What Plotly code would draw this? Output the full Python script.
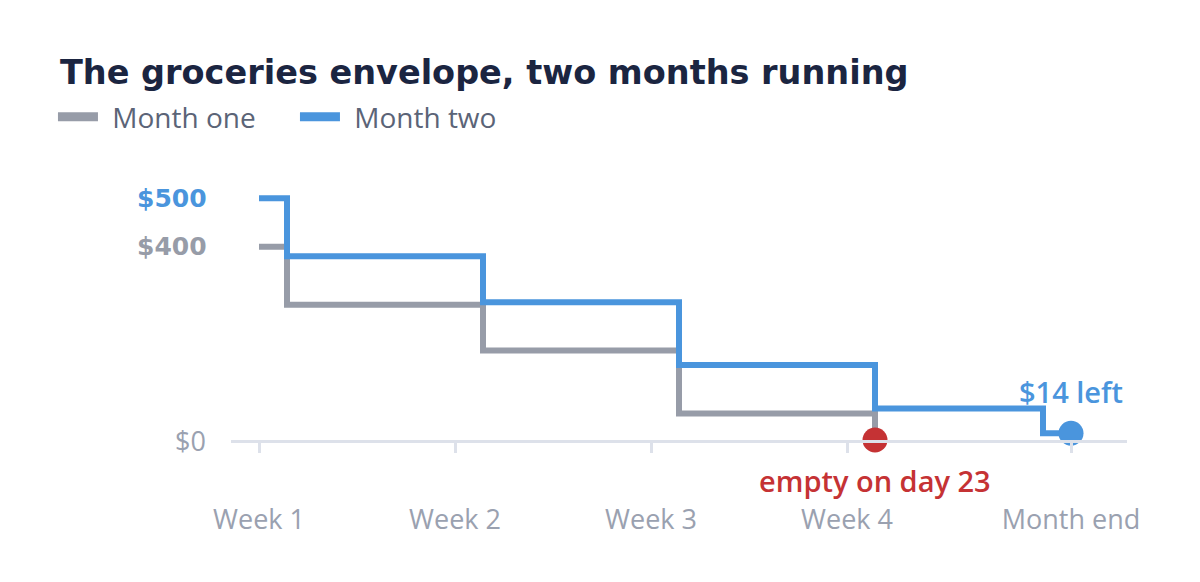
import plotly.graph_objects as go

# 数据：按天记录信封余额
month_one_days = [1, 2, 9, 16, 23]
month_one_left = [400, 280, 185, 55, 0]
month_two_days = [1, 2, 9, 16, 23, 29, 30]
month_two_left = [500, 380, 285, 155, 65, 14, 14]

tick_days = [1, 8, 15, 22, 30]
tick_labels = ["Week 1", "Week 2", "Week 3", "Week 4", "Month end"]
y_ticks = [0, 400, 500]
y_labels = ["$0", "$400", "$500"]

GRAY = "#979ca8"
BLUE = "#4a95dd"
RED = "#c53234"
LABEL = "#9aa1b0"

fig = go.Figure()

fig.add_trace(go.Scatter(
    x=month_one_days, y=month_one_left, name="Month one",
    mode="lines", line=dict(color=GRAY, width=6, shape="hv"),
    cliponaxis=False, showlegend=False,
))
fig.add_trace(go.Scatter(
    x=month_two_days, y=month_two_left, name="Month two",
    mode="lines", line=dict(color=BLUE, width=6, shape="hv"),
    cliponaxis=False, showlegend=False,
))

# 图例用的粗线（只显示在图例里）
for name, color in [("Month one", GRAY), ("Month two", BLUE)]:
    fig.add_trace(go.Scatter(
        x=[None], y=[None], name="\u2009\u2009" + name, mode="lines",
        line=dict(color=color, width=9),
    ))

# 终点标记
fig.add_trace(go.Scatter(
    x=[month_one_days[-1]], y=[month_one_left[-1]], mode="markers",
    marker=dict(color=RED, size=25), showlegend=False, cliponaxis=False,
))
fig.add_trace(go.Scatter(
    x=[month_two_days[-1]], y=[month_two_left[-1]], mode="markers",
    marker=dict(color=BLUE, size=25), showlegend=False, cliponaxis=False,
))

fig.add_annotation(
    x=month_one_days[-1], y=month_one_left[-1], text="empty on day 23",
    showarrow=False, yshift=-40, font=dict(family="Open Sans", size=29, color=RED, weight=600),
)
fig.add_annotation(
    x=month_two_days[-1], y=month_two_left[-1], text="$14 left",
    showarrow=False, yshift=42, font=dict(family="Open Sans", size=29, color=BLUE, weight=600),
)

# y 轴标签
y_colors = [LABEL, GRAY, BLUE]
for val, txt, col in zip(y_ticks, y_labels, y_colors):
    bold = val > 0
    fig.add_annotation(
        x=0, xref="paper", y=val, yref="y", text=txt, showarrow=False,
        xanchor="right", xshift=-22 if bold else -23,
        font=dict(family="DejaVu Sans" if bold else "Open Sans",
                  size=25 if bold else 27, color=col, weight=700 if bold else 400),
    )

fig.update_layout(
    width=1200, height=582,
    margin=dict(l=223, r=81, t=171, b=150),
    paper_bgcolor="white", plot_bgcolor="white",
    title=dict(
        text="<b>The groceries envelope, two months running</b>",
        x=52 / 1200, xanchor="left", y=1 - 64 / 582, yanchor="middle",
        font=dict(family="DejaVu Sans", size=33.5, color="#1b2541"),
    ),
    legend=dict(
        orientation="h", x=-0.1987, xanchor="left", y=1 + 62 / 261, yanchor="middle",
        font=dict(family="Open Sans", size=28, color="#5b6477"),
        itemwidth=40, entrywidth=187, entrywidthmode="pixels", traceorder="normal",
    ),
    xaxis=dict(
        range=[0, 32], tickvals=tick_days, ticktext=tick_labels,
        showgrid=False, zeroline=False,
        showline=True, linecolor="#dde1ea", linewidth=3,
        ticks="outside", ticklen=10, tickwidth=3, tickcolor="#dde1ea",
        ticklabelstandoff=44,
        tickfont=dict(family="Open Sans", size=27, color=LABEL),
    ),
    yaxis=dict(
        range=[0, 540], showgrid=False, zeroline=False, showline=False,
        showticklabels=False, ticks="",
    ),
)

fig.write_html("out.html")
